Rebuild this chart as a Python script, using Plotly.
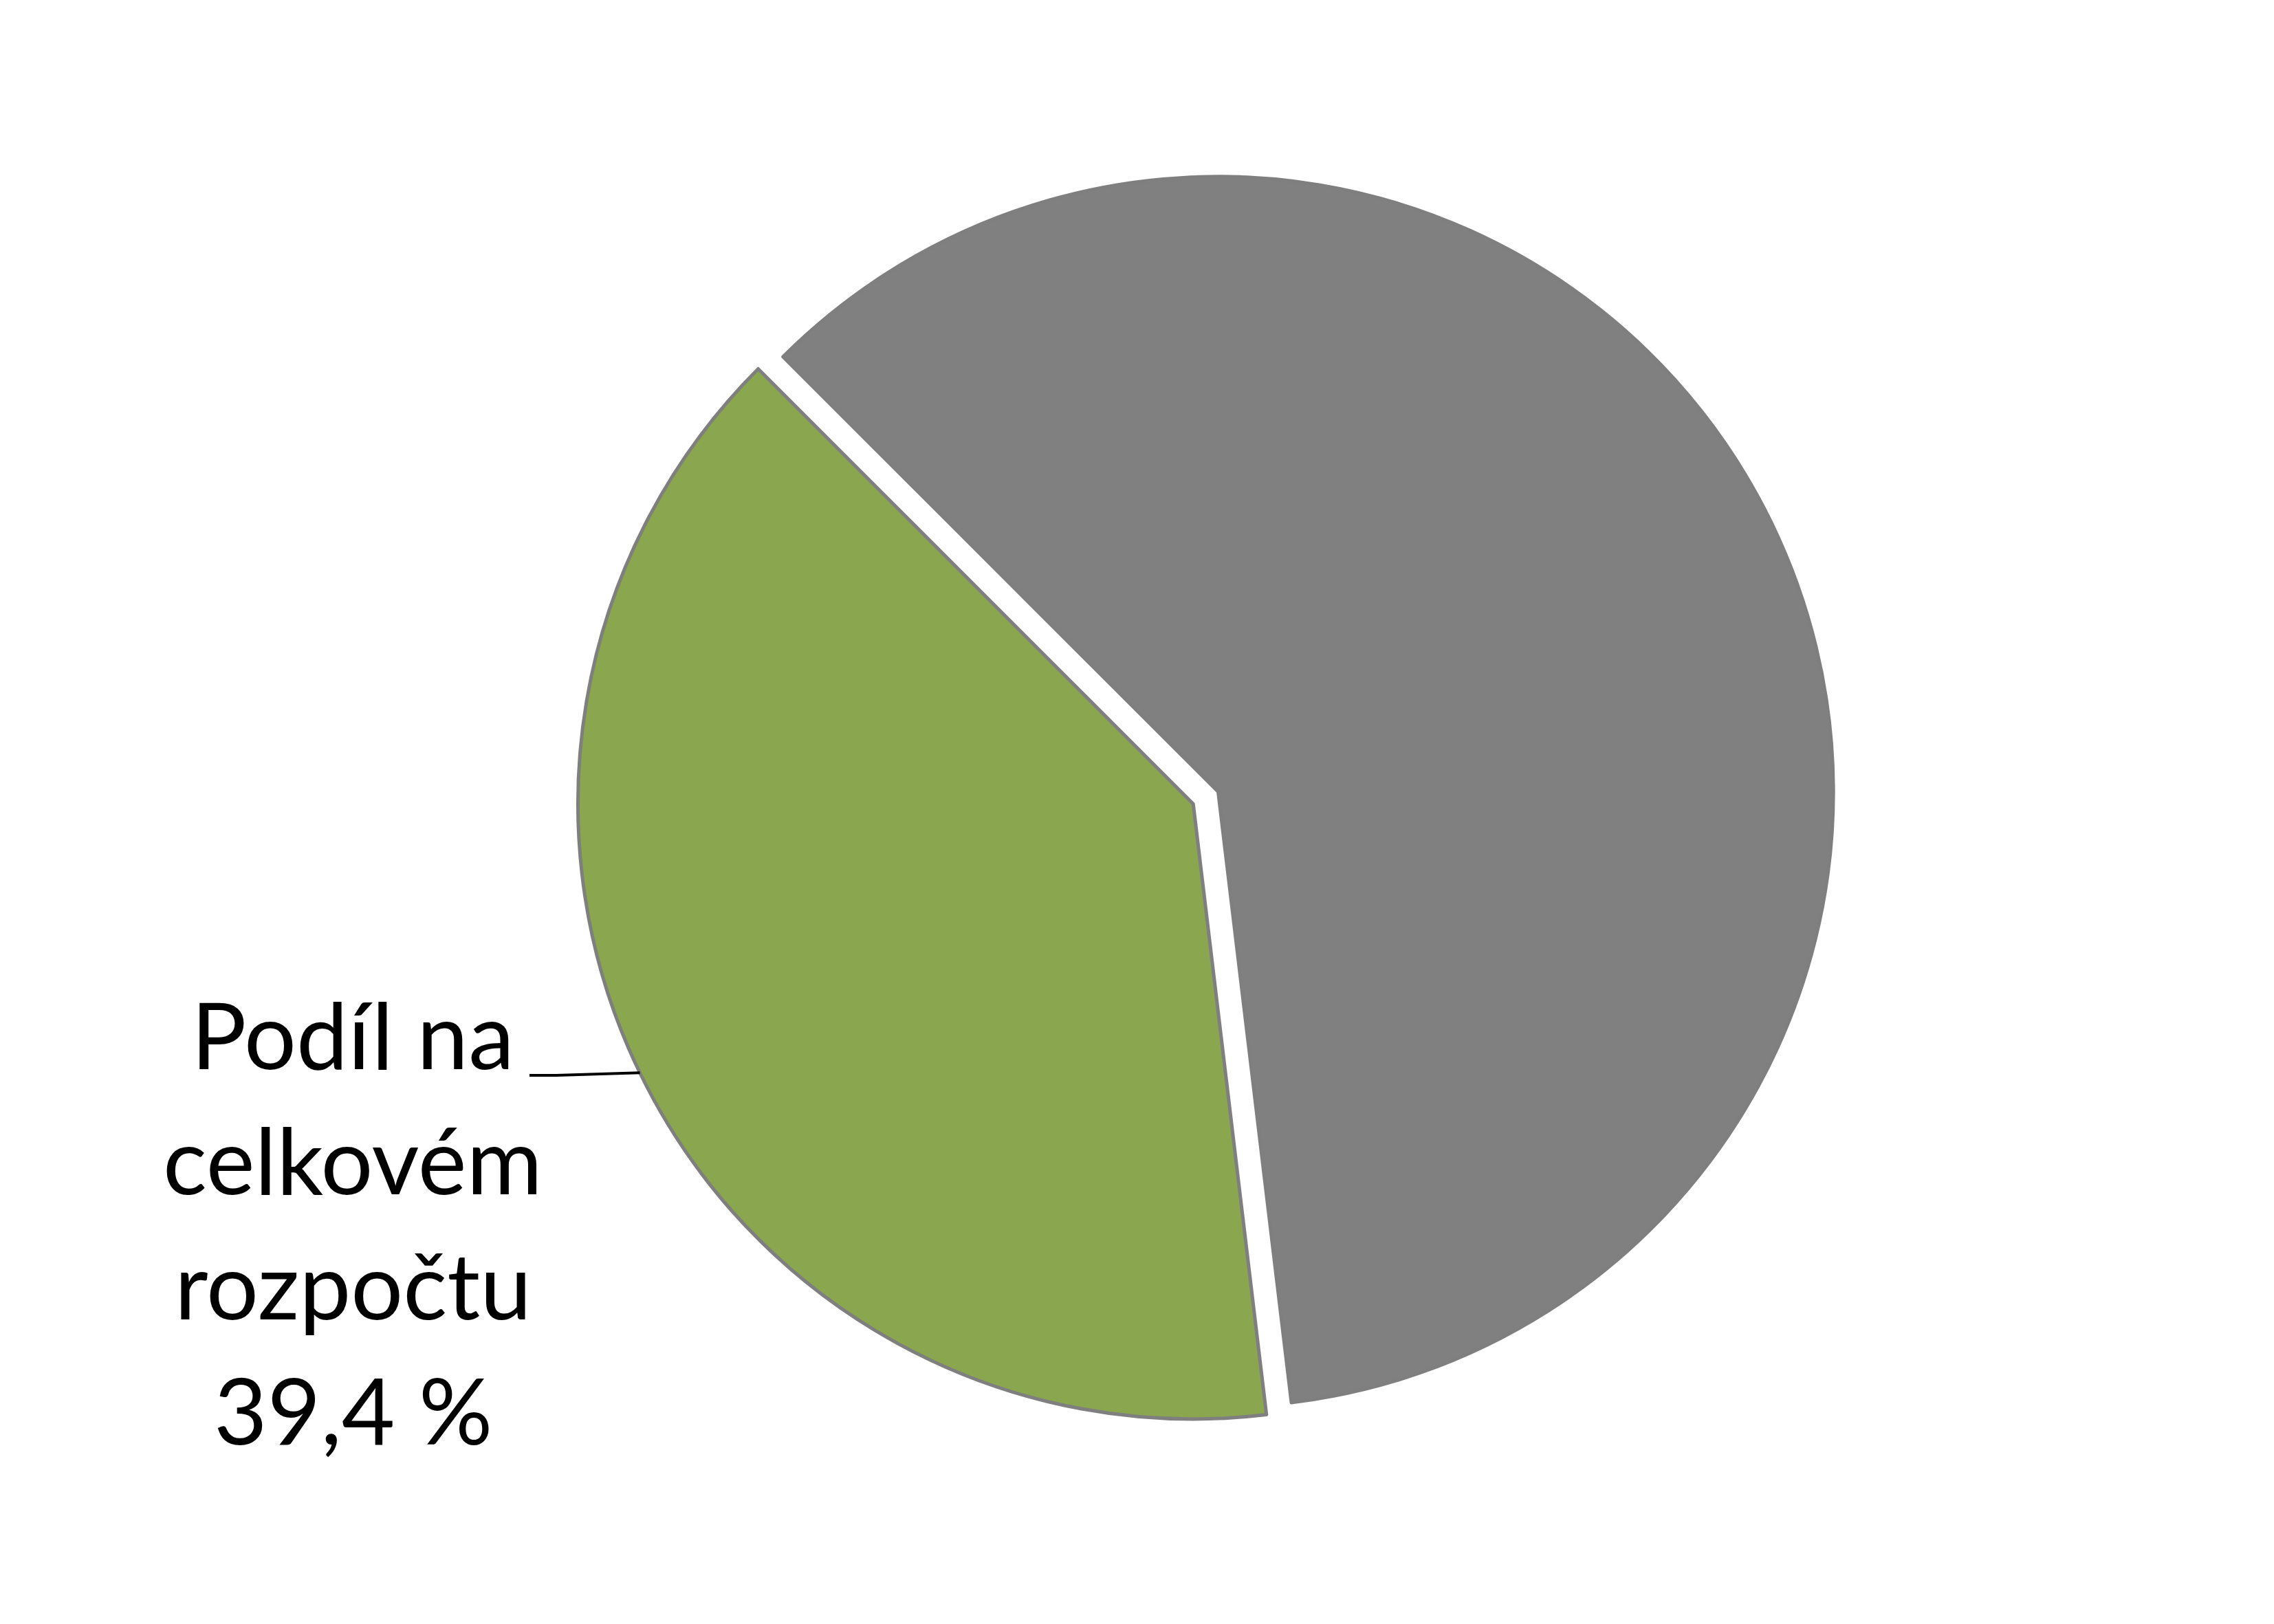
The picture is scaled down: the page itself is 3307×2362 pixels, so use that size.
import math
import plotly.graph_objects as go

# ---- data ----
labels = ["Ostatní", "Podíl na celkovém rozpočtu"]
values = [60.6, 39.4]
colors = ["#808080", "#8AA64F"]
pulls = [0.0, 0.045]
label_lines = ["Podíl na", "celkovém", "rozpočtu", "39,4 %"]

# ---- layout constants ----
W, H = 3307, 2362
ROT = -45
dom_x = [0.2505, 0.8160]
dom_y = [0.1200, 0.9117]

fig = go.Figure(go.Pie(
    labels=labels, values=values, sort=False, direction="clockwise",
    rotation=ROT, pull=pulls, textinfo="none", hoverinfo="label+percent",
    marker=dict(colors=colors, line=dict(color="#7F7F7F", width=5)),
    domain=dict(x=dom_x, y=dom_y), showlegend=False,
))

# geometry of the pie as plotly computes it (pixels, y down)
cx = W * (dom_x[0] + dom_x[1]) / 2
cy = H * (1 - (dom_y[0] + dom_y[1]) / 2)
half = min(W * (dom_x[1] - dom_x[0]), H * (dom_y[1] - dom_y[0])) / 2
r = half / (1 + max(pulls))
tot = sum(values)
start = ROT + 360 * values[0] / tot
mid = math.radians(start + 360 * values[1] / tot / 2)
px_c = cx + pulls[1] * r * math.sin(mid)
py_c = cy - pulls[1] * r * math.cos(mid)
ex = px_c + r * math.sin(mid)
ey = py_c - r * math.cos(mid)

# label block
FS = 134
text_cx = 505
base0 = 1557
spacing = 182
anns = []
for i, t in enumerate(label_lines):
    b = base0 + i * spacing
    anns.append(dict(text=t, x=text_cx / W, y=1 - (b - 0.46 * FS) / H,
                     xref="paper", yref="paper", xanchor="center", yanchor="middle",
                     showarrow=False, font=dict(family="Lato", size=FS, color="#000000")))

knee_x, knee_y = 801, 1556
start_x = 762
path = "M {:.5f},{:.5f} L {:.5f},{:.5f} L {:.5f},{:.5f}".format(
    start_x / W, 1 - knee_y / H, knee_x / W, 1 - knee_y / H, ex / W, 1 - ey / H)

fig.update_layout(
    width=W, height=H, margin=dict(l=0, r=0, t=0, b=0),
    paper_bgcolor="white", plot_bgcolor="white",
    annotations=anns,
    shapes=[dict(type="path", path=path, xref="paper", yref="paper",
                 line=dict(color="#000000", width=4))],
)
fig.write_html("out.html")
